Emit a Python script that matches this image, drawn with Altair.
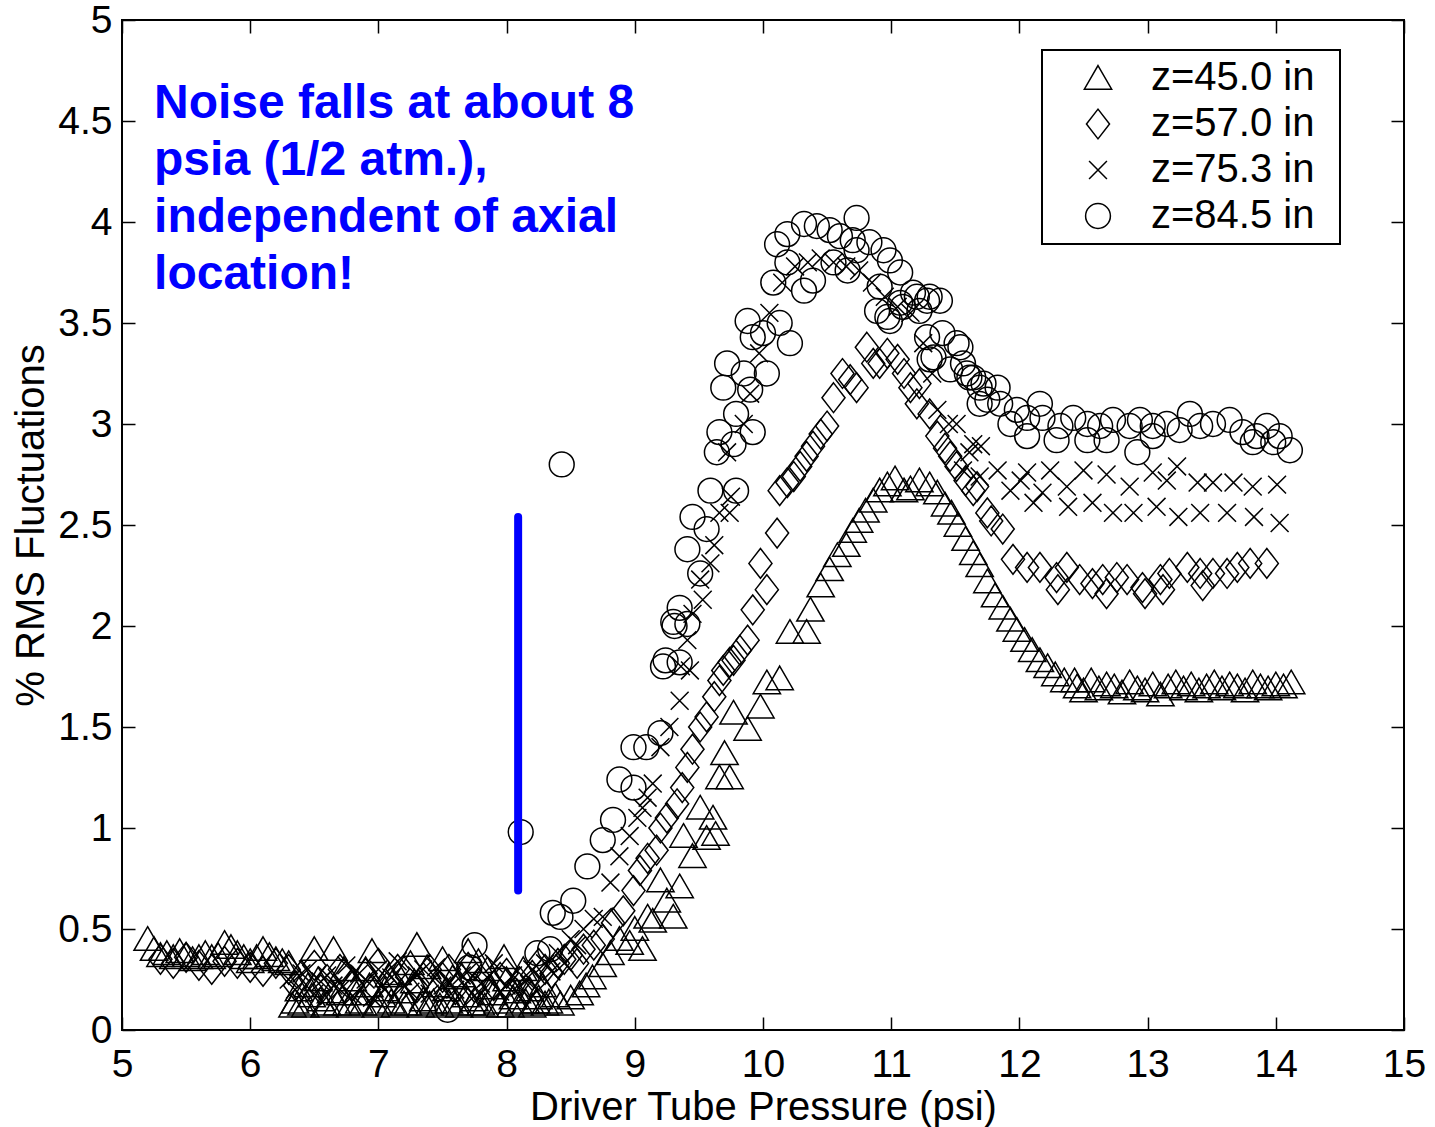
import altair as alt
import pandas as pd

# ---------------- data ----------------
x_ticks = [5, 6, 7, 8, 9, 10, 11, 12, 13, 14, 15]
y_ticks = [0, 0.5, 1, 1.5, 2, 2.5, 3, 3.5, 4, 4.5, 5]
series_names = ["z=45.0 in", "z=57.0 in", "z=75.3 in", "z=84.5 in"]

# z = 45.0 in (triangles)
tri = [
    (5.20, 0.45), (5.25, 0.40), (5.30, 0.37), (5.35, 0.38), (5.40, 0.36), (5.45, 0.39),
    (5.50, 0.37), (5.55, 0.35), (5.60, 0.36), (5.65, 0.38), (5.70, 0.36), (5.75, 0.37),
    (5.80, 0.43), (5.85, 0.41), (5.90, 0.38), (5.95, 0.36), (6.00, 0.34), (6.05, 0.36),
    (6.10, 0.40), (6.15, 0.37), (6.20, 0.35), (6.25, 0.34),
    (6.30, 0.33), (6.35, 0.14), (6.40, 0.13), (6.45, 0.22), (6.50, 0.40), (6.55, 0.15),
    (6.60, 0.13), (6.65, 0.40), (6.70, 0.18), (6.75, 0.13), (6.80, 0.25), (6.85, 0.14),
    (6.90, 0.30), (6.95, 0.39), (7.00, 0.13), (7.05, 0.20), (7.10, 0.14), (7.15, 0.28),
    (7.20, 0.13), (7.25, 0.33), (7.30, 0.42), (7.35, 0.15), (7.40, 0.13), (7.45, 0.22),
    (7.50, 0.35), (7.55, 0.14), (7.60, 0.13), (7.65, 0.27), (7.70, 0.39), (7.75, 0.15),
    (7.80, 0.13), (7.85, 0.30), (7.90, 0.18), (7.95, 0.12), (8.00, 0.25), (8.05, 0.16),
    (8.10, 0.13), (8.15, 0.14), (8.20, 0.12), (8.25, 0.16), (8.30, 0.13),
    (6.33, 0.12), (6.38, 0.20), (6.43, 0.12), (6.48, 0.17), (6.53, 0.25), (6.58, 0.12),
    (6.63, 0.19), (6.68, 0.13), (6.73, 0.30), (6.78, 0.12), (6.83, 0.18), (6.88, 0.13),
    (6.93, 0.22), (6.98, 0.12), (7.03, 0.17), (7.08, 0.27), (7.13, 0.12), (7.18, 0.19),
    (7.23, 0.13), (7.28, 0.24), (7.33, 0.12), (7.38, 0.31), (7.43, 0.14), (7.48, 0.12),
    (7.53, 0.20), (7.58, 0.26), (7.63, 0.12), (7.68, 0.17), (7.73, 0.13), (7.78, 0.34),
    (7.83, 0.12), (7.88, 0.21), (7.93, 0.14), (7.98, 0.36), (8.03, 0.12), (8.08, 0.19),
    (8.13, 0.30), (8.18, 0.20), (8.23, 0.14), (8.28, 0.22), (8.33, 0.14), (8.38, 0.17),
    (8.42, 0.13), (8.50, 0.16), (8.57, 0.18), (8.62, 0.22), (8.67, 0.26), (8.75, 0.32),
    (8.81, 0.38), (8.88, 0.45), (8.96, 0.43), (9.00, 0.50), (9.06, 0.40), (9.10, 0.56),
    (9.14, 0.54), (9.20, 0.74), (9.25, 0.64), (9.30, 0.56), (9.35, 0.71), (9.38, 0.96),
    (9.45, 0.86), (9.51, 1.10), (9.56, 0.95), (9.61, 1.05), (9.63, 0.97), (9.66, 1.25),
    (9.74, 1.25), (9.70, 1.37), (9.77, 1.57), (9.88, 1.49), (9.98, 1.60), (10.03, 1.72),
    (10.13, 1.74), (10.21, 1.97), (10.34, 1.97), (10.37, 2.08), (10.45, 2.20), (10.52, 2.28),
    (10.58, 2.35), (10.65, 2.40), (10.70, 2.47), (10.75, 2.52), (10.80, 2.57), (10.86, 2.62),
    (10.91, 2.67), (10.97, 2.70), (11.03, 2.73), (11.10, 2.67), (11.15, 2.68), (11.22, 2.72),
    (11.30, 2.70), (11.36, 2.66), (11.42, 2.60), (11.47, 2.56), (11.52, 2.50), (11.58, 2.43),
    (11.64, 2.36), (11.69, 2.30), (11.75, 2.22), (11.81, 2.15), (11.87, 2.09), (11.93, 2.03),
    (11.98, 1.98), (12.04, 1.93), (12.10, 1.88), (12.16, 1.83), (12.22, 1.80), (12.28, 1.76),
    (12.35, 1.73), (12.43, 1.73),
    (12.45, 1.70), (12.50, 1.68), (12.56, 1.73), (12.62, 1.69), (12.68, 1.71), (12.74, 1.70),
    (12.80, 1.67), (12.86, 1.72), (12.92, 1.69), (12.98, 1.68), (13.04, 1.71), (13.10, 1.66),
    (13.16, 1.70), (13.22, 1.72), (13.28, 1.69), (13.34, 1.71), (13.40, 1.68), (13.46, 1.70),
    (13.52, 1.72), (13.58, 1.69), (13.64, 1.71), (13.70, 1.70), (13.76, 1.68), (13.82, 1.72),
    (13.88, 1.70), (13.94, 1.69), (14.00, 1.71), (14.06, 1.70), (14.12, 1.72),
]

# z = 57.0 in (diamonds)
dia = [
    (5.30, 0.35), (5.40, 0.33), (5.50, 0.36), (5.60, 0.32), (5.70, 0.30), (5.80, 0.34),
    (5.90, 0.33), (6.00, 0.31), (6.10, 0.29), (6.20, 0.33), (6.30, 0.30), (6.40, 0.27),
    (6.50, 0.32), (6.60, 0.25), (6.70, 0.30), (6.80, 0.22), (6.90, 0.28), (7.00, 0.33),
    (7.10, 0.24), (7.20, 0.29), (7.30, 0.21), (7.40, 0.30), (7.50, 0.26), (7.60, 0.20),
    (7.70, 0.31), (7.80, 0.25), (7.90, 0.22), (8.00, 0.28), (8.10, 0.24), (8.20, 0.27),
    (6.35, 0.22), (6.55, 0.20), (6.75, 0.27), (6.95, 0.20), (7.15, 0.30), (7.35, 0.26),
    (7.55, 0.30), (7.75, 0.21), (7.95, 0.26), (8.15, 0.20), (8.25, 0.33), (8.35, 0.28),
    (8.45, 0.35), (8.55, 0.33),
    (8.30, 0.30), (8.40, 0.33), (8.50, 0.37), (8.60, 0.40), (8.68, 0.42), (8.75, 0.45),
    (8.83, 0.53), (8.91, 0.59), (8.99, 0.69), (9.04, 0.79), (9.10, 0.85), (9.17, 0.89),
    (9.20, 1.00), (9.25, 1.05), (9.33, 1.12), (9.37, 1.20), (9.41, 1.30), (9.45, 1.39),
    (9.51, 1.50), (9.56, 1.55), (9.62, 1.65), (9.66, 1.73), (9.69, 1.78), (9.74, 1.82),
    (9.77, 1.83), (9.82, 1.88), (9.88, 1.93), (9.92, 2.08), (9.98, 2.31), (10.03, 2.18),
    (10.11, 2.46), (10.13, 2.67), (10.19, 2.71), (10.24, 2.74), (10.29, 2.79), (10.34, 2.84),
    (10.39, 2.89), (10.45, 2.95), (10.50, 2.99), (10.55, 3.13), (10.62, 3.25), (10.68, 3.22),
    (10.73, 3.18), (10.81, 3.38), (10.86, 3.30), (10.91, 3.30), (10.97, 3.35), (11.05, 3.32),
    (11.10, 3.25), (11.15, 3.18), (11.20, 3.10), (11.22, 3.20), (11.30, 3.05), (11.36, 2.94),
    (11.42, 2.88), (11.46, 2.84), (11.51, 2.79), (11.58, 2.72), (11.64, 2.67), (11.67, 2.69),
    (11.75, 2.56), (11.78, 2.52), (11.87, 2.48), (11.95, 2.33), (12.06, 2.29), (12.16, 2.29),
    (12.29, 2.24), (12.30, 2.18), (12.37, 2.29), (12.47, 2.23), (12.57, 2.21), (12.65, 2.23),
    (12.68, 2.16), (12.76, 2.24), (12.84, 2.23), (12.96, 2.19), (12.98, 2.16), (13.10, 2.23),
    (13.12, 2.18), (13.17, 2.26), (13.31, 2.29), (13.41, 2.26), (13.43, 2.20), (13.51, 2.26),
    (13.62, 2.26), (13.70, 2.29), (13.80, 2.31), (13.93, 2.31),
]

# z = 75.3 in (crosses)
crs = [
    (6.30, 0.25), (6.35, 0.20), (6.45, 0.30), (6.50, 0.18), (6.60, 0.27), (6.65, 0.22),
    (6.75, 0.32), (6.80, 0.17), (6.90, 0.25), (7.00, 0.30), (7.05, 0.20), (7.15, 0.34),
    (7.20, 0.22), (7.30, 0.27), (7.40, 0.18), (7.45, 0.31), (7.55, 0.24), (7.60, 0.20),
    (7.70, 0.29), (7.80, 0.23), (7.90, 0.33), (7.95, 0.19), (8.05, 0.27), (8.10, 0.21),
    (6.40, 0.28), (6.55, 0.24), (6.70, 0.20), (6.85, 0.28), (6.95, 0.16), (7.10, 0.26),
    (7.25, 0.19), (7.35, 0.30), (7.50, 0.22), (7.65, 0.27), (7.75, 0.17), (7.85, 0.26),
    (8.00, 0.22), (8.15, 0.25), (8.25, 0.20), (8.35, 0.29), (8.45, 0.33), (8.55, 0.42),
    (8.20, 0.30), (8.30, 0.33), (8.40, 0.38), (8.50, 0.45), (8.60, 0.50), (8.68, 0.55),
    (8.75, 0.56), (8.81, 0.73), (8.88, 0.86), (8.96, 0.96), (9.02, 1.05), (9.06, 1.10),
    (9.10, 1.15), (9.14, 1.22), (9.20, 1.40), (9.27, 1.50), (9.35, 1.63), (9.36, 1.80),
    (9.41, 1.93), (9.43, 1.78), (9.45, 2.06), (9.51, 2.23), (9.53, 2.13), (9.59, 2.31),
    (9.62, 2.40), (9.66, 2.56), (9.74, 2.56), (9.75, 2.64), (9.72, 2.86), (9.85, 3.00),
    (9.90, 3.15), (9.97, 3.35), (10.05, 3.55), (10.15, 3.70), (10.25, 3.78), (10.35, 3.80),
    (10.45, 3.82), (10.55, 3.80), (10.65, 3.78), (10.75, 3.76), (10.85, 3.70), (10.95, 3.63),
    (11.05, 3.58), (11.15, 3.55), (11.25, 3.40), (11.32, 3.25),
    (11.36, 3.07), (11.45, 3.00), (11.51, 3.00),
    (11.56, 2.77), (11.61, 2.86), (11.64, 2.90), (11.69, 2.74), (11.70, 2.89), (11.83, 2.77),
    (11.93, 2.67), (12.01, 2.72), (12.06, 2.76), (12.11, 2.61), (12.18, 2.66), (12.24, 2.77),
    (12.37, 2.69), (12.38, 2.59), (12.50, 2.77), (12.57, 2.61), (12.68, 2.75), (12.73, 2.56),
    (12.86, 2.69), (12.89, 2.56), (13.04, 2.76), (13.07, 2.59), (13.15, 2.72), (13.23, 2.79),
    (13.24, 2.54), (13.39, 2.71), (13.41, 2.56), (13.51, 2.71), (13.62, 2.56), (13.67, 2.71),
    (13.82, 2.69), (13.83, 2.54), (14.01, 2.70), (14.03, 2.51),
]

# z = 84.5 in (circles)
cir = [
    (7.54, 0.10), (7.71, 0.31), (7.75, 0.42), (8.11, 0.98), (8.24, 0.38), (8.34, 0.40),
    (8.36, 0.58), (8.43, 2.80), (8.42, 0.56), (8.52, 0.64), (8.63, 0.81), (8.75, 0.94),
    (8.83, 1.04), (8.88, 1.24), (8.99, 1.20), (8.99, 1.40), (9.09, 1.40), (9.20, 1.47),
    (9.22, 1.80), (9.24, 1.83), (9.31, 2.00), (9.35, 1.82), (9.30, 2.02), (9.35, 2.09),
    (9.41, 2.01), (9.41, 2.38), (9.45, 2.54), (9.51, 2.26), (9.56, 2.48), (9.59, 2.67),
    (9.64, 2.86), (9.66, 2.96), (9.69, 3.18), (9.72, 3.30), (9.77, 2.90), (9.79, 2.67),
    (9.79, 3.05), (9.85, 3.25), (9.88, 3.51), (9.90, 3.17), (9.92, 3.43), (9.92, 2.96),
    (10.00, 3.45), (10.03, 3.25), (10.08, 3.70), (10.11, 3.89), (10.13, 3.50), (10.19, 3.94),
    (10.19, 3.80), (10.21, 3.40), (10.32, 3.99), (10.32, 3.66), (10.39, 3.71), (10.42, 3.98),
    (10.52, 3.96), (10.55, 3.80), (10.60, 3.93), (10.66, 3.76), (10.70, 3.91), (10.73, 4.02),
    (10.73, 3.86), (10.83, 3.90), (10.89, 3.56), (10.91, 3.68), (10.94, 3.86), (10.97, 3.53),
    (10.99, 3.81), (10.99, 3.51), (11.07, 3.75), (11.07, 3.60), (11.09, 3.58), (11.17, 3.65),
    (11.20, 3.63), (11.22, 3.56), (11.28, 3.61), (11.28, 3.43), (11.30, 3.63), (11.30, 3.32),
    (11.33, 3.33), (11.38, 3.61), (11.40, 3.45), (11.46, 3.27), (11.51, 3.40), (11.54, 3.38),
    (11.56, 3.30), (11.59, 3.25), (11.61, 3.23), (11.64, 3.23), (11.69, 3.18), (11.69, 3.10),
    (11.72, 3.20), (11.75, 3.12), (11.83, 3.18), (11.85, 3.10), (11.93, 3.00), (11.98, 3.07),
    (12.06, 3.03), (12.06, 2.94), (12.16, 3.10), (12.18, 3.03), (12.29, 2.92), (12.32, 2.99),
    (12.42, 3.03), (12.53, 3.00), (12.53, 2.92), (12.63, 2.99), (12.68, 2.92), (12.73, 3.02),
    (12.86, 2.99), (12.92, 2.86), (12.94, 3.02), (13.04, 2.99), (13.04, 2.94), (13.15, 3.00),
    (13.25, 2.97), (13.33, 3.05), (13.41, 2.99), (13.51, 3.00), (13.64, 3.02), (13.74, 2.96),
    (13.82, 2.91), (13.85, 2.94), (13.93, 2.99), (13.98, 2.91), (14.03, 2.94), (14.11, 2.87),
]

# annotation
annot_lines = ["Noise falls at about 8", "psia (1/2 atm.),", "independent of axial", "location!"]
annot_x = [5.25]
annot_y = [4.515]
marker_line_x = [8.09]
marker_line_y1 = [0.69]
marker_line_y2 = [2.54]

# ---------------- build ----------------
rows = []
for name, pts in zip(series_names, [tri, dia, crs, cir]):
    for px, py in pts:
        rows.append({"p": px, "r": py, "series": name})
df = pd.DataFrame(rows)

TRI = "M0,-1L1.1,0.9L-1.1,0.9Z"
DIA = "M0,-1.2L0.93,0L0,1.2L-0.93,0Z"
XM = "M-0.72,-0.72L0.72,0.72M-0.72,0.72L0.72,-0.72"
shapes = [TRI, DIA, XM, "circle"]

FONT = "Liberation Sans"
xscale = alt.Scale(domain=[5, 15], nice=False, zero=False)
yscale = alt.Scale(domain=[0, 5], nice=False, zero=False)

common_axis = dict(grid=False, domain=False, tickSize=13, tickWidth=1.5, tickColor="black",
                   offset=-13, format="~g")

x_bottom = alt.Axis(values=x_ticks, orient="bottom", labelPadding=15, labelFontSize=39,
                    labelFont=FONT, labelColor="black", title="Driver Tube Pressure (psi)",
                    titleFontSize=40, titleFont=FONT, titleFontWeight="normal",
                    titleColor="black", titlePadding=3, labelFlush=False, **common_axis)
y_left = alt.Axis(values=y_ticks, orient="left", labelPadding=10, labelFontSize=39,
                  labelFont=FONT, labelColor="black", title="% RMS Fluctuations",
                  titleFontSize=40, titleFont=FONT, titleFontWeight="normal",
                  titleColor="black", titlePadding=6, labelFlush=False, **common_axis)
x_top = alt.Axis(values=x_ticks, orient="top", labels=False, title=None, **common_axis)
y_right = alt.Axis(values=y_ticks, orient="right", labels=False, title=None, **common_axis)

points = alt.Chart(df).mark_point(filled=False, size=616, strokeWidth=1.5, color="black",
                                  opacity=1).encode(
    x=alt.X("p:Q", scale=xscale, axis=x_bottom),
    y=alt.Y("r:Q", scale=yscale, axis=y_left),
    shape=alt.Shape("series:N", sort=None,
                    scale=alt.Scale(domain=series_names, range=shapes),
                    legend=alt.Legend(title="ii", titleOrient="right", titleOpacity=0,
                                      titleFontSize=10, titlePadding=12,
                                      orient="none", legendX=920, legendY=30,
                                      strokeColor="black", fillColor="white", padding=8,
                                      rowPadding=6, labelFontSize=40, labelFont=FONT,
                                      labelColor="black", labelLimit=400, symbolSize=616,
                                      symbolStrokeWidth=1.5, symbolStrokeColor="black",
                                      symbolFillColor="transparent", symbolOffset=28,
                                      labelOffset=33)),
)

rule_df = pd.DataFrame({"x": marker_line_x, "y1": marker_line_y1, "y2": marker_line_y2})
rule = alt.Chart(rule_df).mark_rule(color="#0000ff", strokeWidth=8, strokeCap="round").encode(
    x=alt.X("x:Q", scale=xscale, axis=x_top),
    y=alt.Y("y1:Q", scale=yscale, axis=y_right),
    y2="y2:Q",
)

text_df = pd.DataFrame({"x": annot_x, "y": annot_y})
text = alt.Chart(text_df).mark_text(text=annot_lines, align="left", baseline="alphabetic",
                                    font=FONT, fontWeight="bold", fontSize=48,
                                    color="#0000ff", lineHeight=57).encode(
    x=alt.X("x:Q", scale=xscale, axis=None),
    y=alt.Y("y:Q", scale=yscale, axis=None),
)

chart = alt.layer(points, rule, text).resolve_axis(x="independent", y="independent").properties(
    width=1282, height=1010,
    autosize=alt.AutoSizeParams(type="none"),
    padding={"left": 122, "top": 20, "right": 31, "bottom": 97},
).configure_view(stroke="black", strokeWidth=2).configure_legend(strokeWidth=2)

chart.save("out.html", embed_options={"renderer": "svg", "actions": False})
